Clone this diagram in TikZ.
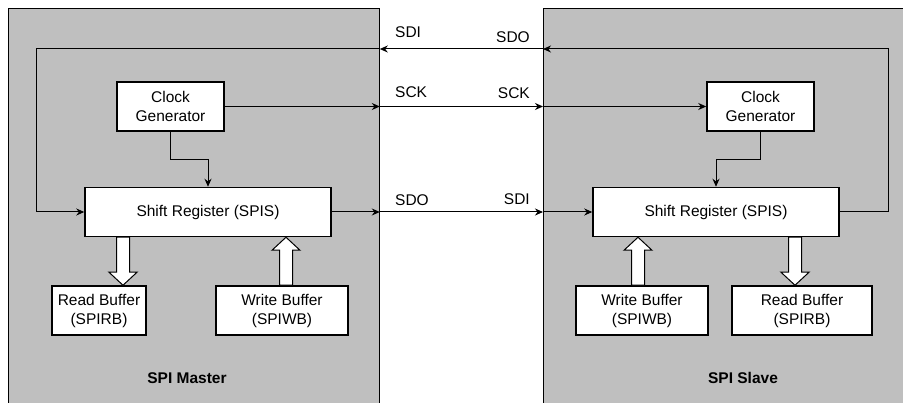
\documentclass[tikz,border=0pt]{standalone}
\usepackage{fontspec}
\setmainfont{Liberation Sans}
\usetikzlibrary{arrows.meta,calc}

\tikzset{
    panel/.style = {draw, fill=gray!50, line width=0.8pt, anchor=north west, inner sep=0pt},
    block/.style = {draw, fill=white, line width=1.5pt, align=center, inner sep=0pt},
    sig/.style = {line width=1pt, -{Stealth[length=8pt, width=7pt]}},
    lbl/.style = {inner sep=0pt},
    hollowdown/.style = {draw, fill=white, line width=1pt, to path={
        let \p1 = (\tikztostart), \p2 = (\tikztotarget) in
        (\x1-6.5pt,\y1) -- (\x1-6.5pt,\y2+13pt) -- (\x1-14pt,\y2+13pt) -- (\x1,\y2)
        -- (\x1+14pt,\y2+13pt) -- (\x1+6.5pt,\y2+13pt) -- (\x1+6.5pt,\y1) -- cycle}},
    hollowup/.style = {draw, fill=white, line width=1pt, to path={
        let \p1 = (\tikztostart), \p2 = (\tikztotarget) in
        (\x1-6.5pt,\y1) -- (\x1-6.5pt,\y2-13pt) -- (\x1-14pt,\y2-13pt) -- (\x1,\y2)
        -- (\x1+14pt,\y2-13pt) -- (\x1+6.5pt,\y2-13pt) -- (\x1+6.5pt,\y1) -- cycle}}
}

\begin{document}
\begin{tikzpicture}[x=1pt, y=-1pt, font=\fontsize{15.5}{19}\selectfont]
\useasboundingbox (0,0) rectangle (903,403);
\clip (0,0) rectangle (903,403);

% the two devices
\node[panel, minimum width=371pt, minimum height=420pt] (master) at (8,8) {};
\node[panel, minimum width=380pt, minimum height=420pt] (slave) at (543,8) {};
\node[font=\fontsize{15.5}{19}\selectfont\bfseries] (mname) at (187,378) {SPI Master};
\node[font=\fontsize{15.5}{19}\selectfont\bfseries] (sname) at (743,378) {SPI Slave};

% master blocks
\node[block, minimum width=107pt, minimum height=49pt] (mclk) at (170.5,106.5) {Clock\\Generator};
\node[block, minimum width=246pt, minimum height=49pt] (mshift) at (208,212) {Shift Register (SPIS)};
\node[block, minimum width=94pt, minimum height=49pt] (mread) at (99,310.5) {Read Buffer\\(SPIRB)};
\node[block, minimum width=132pt, minimum height=49pt] (mwrite) at (282,310.5) {Write Buffer\\(SPIWB)};

% slave blocks
\node[block, minimum width=107pt, minimum height=49pt] (sclk) at (760.5,106.5) {Clock\\Generator};
\node[block, minimum width=246pt, minimum height=49pt] (sshift) at (716,212) {Shift Register (SPIS)};
\node[block, minimum width=132pt, minimum height=49pt] (swrite) at (642,310.5) {Write Buffer\\(SPIWB)};
\node[block, minimum width=140pt, minimum height=49pt] (sread) at (802,310.5) {Read Buffer\\(SPIRB)};

\coordinate (sfb) at (888,49);
\coordinate (mfb) at (36,49);

% SDO (slave) -> SDI (master)
\draw[sig] (sshift.east) -| (sfb) -- (slave.west |- sfb);
\draw[sig] (slave.west |- sfb) -- (master.east |- sfb);
\draw[sig] (master.east |- sfb) -- (mfb) |- (mshift.west);

% SCK
\draw[sig] (mclk.east) -- (master.east |- mclk.east);
\draw[sig] (master.east |- mclk.east) -- (slave.west |- mclk.east);
\draw[sig] (slave.west |- sclk.west) -- (sclk.west);

% SDO (master) -> SDI (slave)
\draw[sig] (mshift.east) -- (master.east |- mshift.east);
\draw[sig] (master.east |- mshift.east) -- (slave.west |- mshift.east);
\draw[sig] (slave.west |- sshift.west) -- (sshift.west);

% clock into shift register
\draw[sig] (mclk.south) -- ++(0,28) -| (mshift.north);
\draw[sig] (sclk.south) -- ++(0,28) -| (sshift.north);

% buffers
\path[hollowdown] ([xshift=24pt]mread.north |- mshift.south) to ([xshift=24pt]mread.north);
\path[hollowup] ([xshift=4pt]mwrite.north) to ([xshift=4pt]mwrite.north |- mshift.south);
\path[hollowup] ([xshift=-4pt]swrite.north) to ([xshift=-4pt]swrite.north |- sshift.south);
\path[hollowdown] ([xshift=-7pt]sread.north |- sshift.south) to ([xshift=-7pt]sread.north);

% signal names
\node[lbl, anchor=west] (msdi) at (395,32) {SDI};
\node[lbl, anchor=west] (msck) at (395,92) {SCK};
\node[lbl, anchor=west] (msdo) at (395,200) {SDO};
\node[lbl, anchor=east] (ssdo) at (530,37) {SDO};
\node[lbl, anchor=east] (ssck) at (530,93) {SCK};
\node[lbl, anchor=east] (ssdi) at (530,199) {SDI};
\end{tikzpicture}
\end{document}
